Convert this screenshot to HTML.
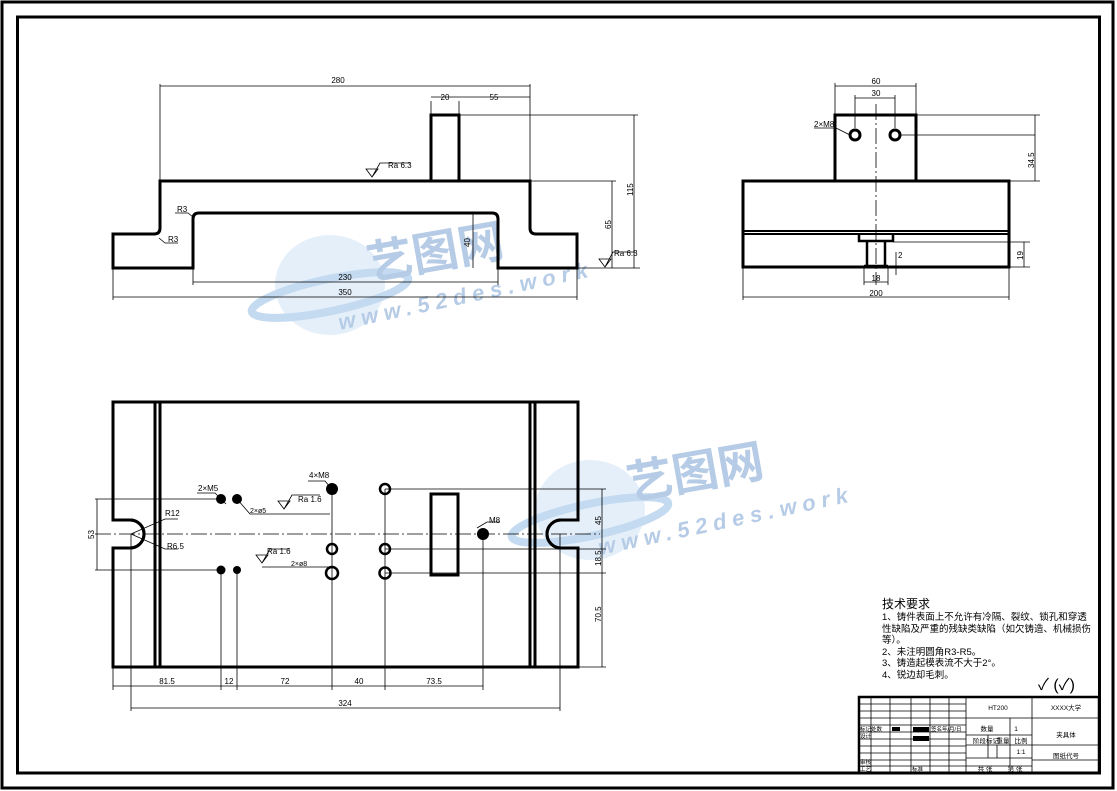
<!DOCTYPE html>
<html><head><meta charset="utf-8"><style>
html,body{margin:0;padding:0;background:#fff}
svg{display:block}
text{font-family:"Liberation Sans","Noto Sans CJK SC",sans-serif;fill:#000}
</style></head><body>
<svg width="1117" height="791" viewBox="0 0 1117 791" xmlns="http://www.w3.org/2000/svg">
<rect x="0" y="0" width="1117" height="791" fill="#fff"/>
<rect x="2" y="2" width="1111" height="786" fill="none" stroke="#000" stroke-width="3"/>
<rect x="17.5" y="17" width="1082" height="756" fill="none" stroke="#000" stroke-width="3"/>

<g opacity="0.4">
<ellipse cx="330" cy="285" rx="55" ry="50" fill="#bcd8f2"/>
<ellipse cx="330" cy="295" rx="80" ry="16" fill="none" stroke="#6aa3da" stroke-width="8" transform="rotate(-12 330 295)"/>
<text x="370" y="280" font-size="46" font-weight="bold" style="fill:#4a7fc0" transform="rotate(-10 370 280)">艺图网</text>
<text x="340" y="330" font-size="22" font-weight="bold" font-style="italic" style="fill:#4a7fc0" letter-spacing="6" transform="rotate(-12 340 330)">www.52des.work</text>
<ellipse cx="590" cy="510" rx="55" ry="50" fill="#bcd8f2"/>
<ellipse cx="590" cy="520" rx="80" ry="16" fill="none" stroke="#6aa3da" stroke-width="8" transform="rotate(-12 590 520)"/>
<text x="630" y="500" font-size="46" font-weight="bold" style="fill:#4a7fc0" transform="rotate(-10 630 500)">艺图网</text>
<text x="600" y="555" font-size="22" font-weight="bold" font-style="italic" style="fill:#4a7fc0" letter-spacing="6" transform="rotate(-12 600 555)">www.52des.work</text>
</g>

<g fill="none" stroke="#000">
<path d="M113,234 H154 Q160,234 160,228 V181 H530 V228 Q530,234 536,234 H577 V268 H498 V219 Q498,213 492,213 H199 Q193,213 193,219 V268 H113 Z" stroke-width="3"/>
<rect x="431" y="115" width="28" height="66" stroke-width="3"/>
<g stroke-width="0.8">
<path d="M160,181 V84 M530,181 V84 M431,115 V101 M459,115 V101 M160,86 H530 M431,97 H530"/>
<path d="M459,115 H638 M530,181 H616 M577,268 H640 M634,115 V268 M612,181 V268"/>
<path d="M473,213 V268 M193,268 V285 M498,268 V285 M193,282 H498 M113,268 V300 M577,268 V300 M113,297 H577"/>
<path d="M372,177 L378,169 L366,169 L372,177 L380,163 H410"/>
<path d="M605,267 L611,259 L599,259 L605,267 L613,252 H635"/>
<path d="M175,213 H188 L193,217 M159,238 L165,243 H178"/>
</g>

<rect x="743" y="181" width="266" height="86" stroke-width="3"/>
<path d="M743,231 H1009 M743,234 H1009" stroke-width="2"/>
<rect x="835" y="115" width="81" height="66" stroke-width="3"/>
<path d="M859,234 V241 H893 V234 M867,241 V266 M885,241 V266 M864,266 H888" stroke-width="2.5"/>
<g stroke-width="0.8">
<path d="M876,104 V285" stroke-dasharray="16,3,2,3"/>
<path d="M835,115 V83 M916,115 V83 M835,86 H916 M855,128 V95 M895,128 V95 M855,98 H895"/>
<path d="M899,135 H1035 M916,115 H1040 M1035,115 V181 M1009,181 H1040"/>
<path d="M893,242 H1030 M1009,267 H1030 M1024,242 V267 M743,267 V300 M1009,267 V300 M743,297 H1009"/>
<path d="M864,266 V285 M888,266 V285 M864,282 H888 M896,252 V275"/>
<path d="M814,128 H836 L850,135"/>
</g>
<circle cx="855" cy="135" r="5" stroke-width="3"/>
<circle cx="895" cy="135" r="5" stroke-width="3"/>

<path d="M113,402 H578 V520 H561 A14,14 0 0 0 561,548 H578 V667 H113 V548 H130 A14,14 0 0 0 130,520 H113 Z" stroke-width="3"/>
<path d="M155,402 V667 M160,402 V667 M530,402 V667 M535,402 V667" stroke-width="3"/>
<rect x="431" y="494" width="27" height="81" stroke-width="3"/>
<g stroke-width="0.8">
<path d="M95,534 H600" stroke-dasharray="16,3,2,3"/>
<path d="M95,499 H221 M95,570 H221"/>
<path d="M97,499 V570"/>
<path d="M385,489 H606 M385,549 H606 M385,573 H606 M578,667 H606 M602,489 V667"/>
<path d="M113,667 V690 M221,570 V690 M237,570 V690 M332,489 V690 M385,489 V690 M483,534 V690 M113,686 H483"/>
<path d="M131,534 V711 M560,534 V711 M131,708 H560"/>
<path d="M131,534 L165,519 H178 M131,534 L165,549 H178"/>
<path d="M197,493 H215 L226,504 M237,499 L250,514 H330 M284,509 L290,501 L278,501 L284,509 L292,495 H320"/>
<path d="M308,481 H325 L336,494 M477,528 L487,522 H500"/>
<path d="M262,563 L268,555 L256,555 L262,563 L270,549 H290 M262,567 H330"/>
</g>
</g>

<g fill="#000">
<circle cx="221" cy="499" r="5"/><circle cx="237" cy="499" r="5"/>
<circle cx="221" cy="570" r="4.5"/><circle cx="237" cy="570" r="4"/>
<circle cx="332" cy="489" r="6"/><circle cx="483" cy="534" r="6"/>
</g>
<g fill="none" stroke="#000" stroke-width="2.5">
<circle cx="385" cy="489" r="5"/><circle cx="332" cy="549" r="5"/><circle cx="385" cy="549" r="5"/>
<circle cx="332" cy="573" r="6"/><circle cx="385" cy="573" r="5.5"/>
</g>
<path d="M130,520 A14,14 0 0 1 130,548 M561,520 A14,14 0 0 0 561,548" fill="none" stroke="#000" stroke-width="3"/>

<g font-size="8">
<text x="338" y="83" text-anchor="middle">280</text>
<text x="445" y="100" text-anchor="middle">20</text>
<text x="494" y="100" text-anchor="middle">55</text>
<text x="388" y="168">Ra 6.3</text>
<text x="614" y="256">Ra 6.3</text>
<text x="345" y="280" text-anchor="middle">230</text>
<text x="345" y="295" text-anchor="middle">350</text>
<text x="177" y="212">R3</text><text x="168" y="242">R3</text>
<text transform="translate(633,196) rotate(-90)">115</text>
<text transform="translate(611,229) rotate(-90)">65</text>
<text transform="translate(470,247) rotate(-90)">40</text>
<text x="876" y="84" text-anchor="middle">60</text>
<text x="876" y="96" text-anchor="middle">30</text>
<text x="876" y="296" text-anchor="middle">200</text>
<text x="876" y="281" text-anchor="middle">18</text>
<text x="898" y="258">2</text>
<text x="814" y="127">2×M8</text>
<text transform="translate(1034,168) rotate(-90)">34.5</text>
<text transform="translate(1023,260) rotate(-90)">19</text>
<text x="198" y="491">2×M5</text>
<text x="309" y="478">4×M8</text>
<text x="165" y="516">R12</text>
<text x="167" y="549">R6.5</text>
<text x="298" y="502">Ra 1.6</text>
<text x="267" y="554">Ra 1.6</text>
<text x="250" y="513" font-size="7">2×ø5</text>
<text x="291" y="566" font-size="7">2×ø8</text>
<text x="489" y="523">M8</text>
<text transform="translate(94,539) rotate(-90)">53</text>
<text transform="translate(601,525) rotate(-90)">45</text>
<text transform="translate(601,566) rotate(-90)">18.5</text>
<text transform="translate(601,622) rotate(-90)">70.5</text>
<text x="167" y="684" text-anchor="middle">81.5</text>
<text x="229" y="684" text-anchor="middle">12</text>
<text x="285" y="684" text-anchor="middle">72</text>
<text x="359" y="684" text-anchor="middle">40</text>
<text x="434" y="684" text-anchor="middle">73.5</text>
<text x="345" y="706" text-anchor="middle">324</text>
</g>

<g font-size="9.5">
<text x="882" y="608" font-size="12">技术要求</text>
<text x="882" y="620">1、铸件表面上不允许有冷隔、裂纹、锁孔和穿透</text>
<text x="882" y="632">性缺陷及严重的残缺类缺陷（如欠铸造、机械损伤</text>
<text x="882" y="643">等）。</text>
<text x="882" y="655">2、未注明圆角R3-R5。</text>
<text x="882" y="666">3、铸造起模表流不大于2°。</text>
<text x="882" y="678">4、锐边却毛刺。</text>
<text x="1038" y="690" font-size="16">✓ (✓)</text>
</g>

<g fill="none" stroke="#000">
<rect x="859" y="697" width="240" height="76" stroke-width="2.5"/>
<g stroke-width="0.8">
<path d="M966,697 V773 M1032,697 V773 M966,718 H1099 M966,745 H1099 M1032,760 H1099"/>
<path d="M966,735 H1032 M966,758 H1032 M966,766 H1032 M1010,718 V766 M988,735 V758 M997,745 V758"/>
<path d="M859,704 H966 M859,711 H966 M859,718 H966 M859,725 H966 M859,732 H966 M859,739 H966 M859,746 H966 M859,753 H966 M859,760 H966 M859,766 H966"/>
<path d="M871,697 V773 M890,697 V773 M911,697 V773 M930,697 V773 M949,697 V773"/>
</g>
</g>
<rect x="892" y="727" width="8" height="4" fill="#000"/>
<rect x="913" y="727" width="16" height="5" fill="#000"/>
<rect x="913" y="736" width="16" height="5" fill="#000"/>
<g font-size="6.5">
<text x="998" y="710" text-anchor="middle">HT200</text>
<text x="1066" y="710" text-anchor="middle">XXXX大学</text>
<text x="987" y="731" text-anchor="middle">数量</text>
<text x="1016" y="731" text-anchor="middle">1</text>
<text x="1066" y="737" text-anchor="middle">夹具体</text>
<text x="986" y="743" text-anchor="middle">阶段标记</text>
<text x="1003" y="743" text-anchor="middle">重量</text>
<text x="1021" y="743" text-anchor="middle">比例</text>
<text x="1021" y="754" text-anchor="middle">1:1</text>
<text x="1066" y="758" text-anchor="middle">图纸代号</text>
<text x="985" y="771" text-anchor="middle">共 张</text>
<text x="1015" y="771" text-anchor="middle">第 张</text>
<text x="860" y="731" font-size="5.5">标记处数</text>
<text x="931" y="731" font-size="5.5">签名年/月/日</text>
<text x="860" y="738" font-size="5.5">设计</text>
<text x="860" y="764" font-size="5.5">审核</text>
<text x="860" y="771" font-size="5.5">工艺</text>
<text x="912" y="771" font-size="5.5">标准</text>
</g>
</svg>
</body></html>
